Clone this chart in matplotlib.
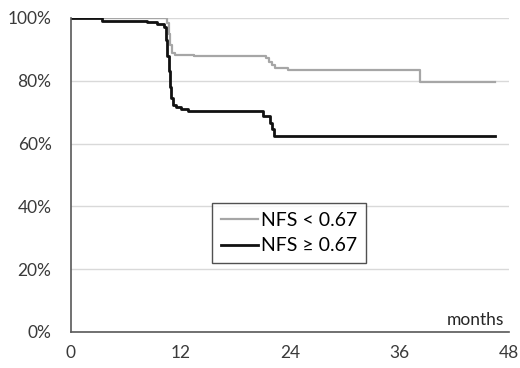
import matplotlib

matplotlib.use("Agg")
import matplotlib.pyplot as plt
from matplotlib.ticker import FuncFormatter

plt.rcParams["font.family"] = ["Lato", "DejaVu Sans"]

# Kaplan-Meier step curves (months, % event-free)
low_label = "NFS < 0.67"
low_months = [0, 10.5, 10.7, 10.9, 11.1, 11.4, 13.5, 21.4, 21.7, 22.0, 22.4, 23.8, 38.3, 46.5]
low_surv = [100, 98.5, 95.0, 91.5, 89.0, 88.3, 88.0, 87.3, 86.0, 85.0, 84.1, 83.3, 79.7, 79.7]

high_label = "NFS \u2265 0.67"
high_months = [0, 3.4, 8.3, 9.4, 10.2, 10.4, 10.55, 10.7, 10.85, 11.0, 11.2, 11.5, 12.1, 12.8,
               21.0, 21.8, 22.0, 22.3, 46.5]
high_surv = [100, 99.2, 98.6, 98.0, 97.0, 93.0, 88.0, 83.0, 78.0, 74.5, 72.3, 71.8, 71.1, 70.5,
             68.9, 66.5, 64.5, 62.3, 62.3]

x_ticks = [0, 12, 24, 36, 48]
y_ticks = [0, 20, 40, 60, 80, 100]

fig = plt.figure(figsize=(5.2, 3.68), dpi=100)
ax = fig.add_axes([71 / 520, 36 / 368, 438 / 520, 314 / 368])

ax.plot(low_months, low_surv, drawstyle="steps-post", color="#a6a6a6", lw=1.6, label=low_label)
ax.plot(high_months, high_surv, drawstyle="steps-post", color="#111111", lw=2.0, label=high_label)

ax.set_xlim(0, 48)
ax.set_ylim(0, 100)
ax.set_xticks(x_ticks)
ax.set_yticks(y_ticks)
ax.yaxis.set_major_formatter(FuncFormatter(lambda v, _: f"{v:.0f}%"))
ax.tick_params(length=0, labelsize=12.5, labelcolor="#3a3a3a")
ax.tick_params(axis="x", pad=9)
ax.tick_params(axis="y", pad=14)
ax.grid(axis="y", color="#d9d9d9", lw=1.0)
ax.set_axisbelow(True)

for side in ("top", "right"):
    ax.spines[side].set_visible(False)
for side in ("left", "bottom"):
    ax.spines[side].set_color("#595959")
    ax.spines[side].set_linewidth(1.2)

ax.text(0.99, 0.012, "months", transform=ax.transAxes, ha="right", va="bottom",
        fontsize=12.5, color="#262626")

leg = ax.legend(loc="upper left", bbox_to_anchor=(0.322, 0.411), borderaxespad=0,
                fontsize=14, frameon=True, fancybox=False, edgecolor="#262626",
                handlelength=1.9, handletextpad=0.15, borderpad=0.45, labelspacing=0.45)
leg.get_frame().set_linewidth(1.0)

fig.savefig("out.png", dpi=100)
